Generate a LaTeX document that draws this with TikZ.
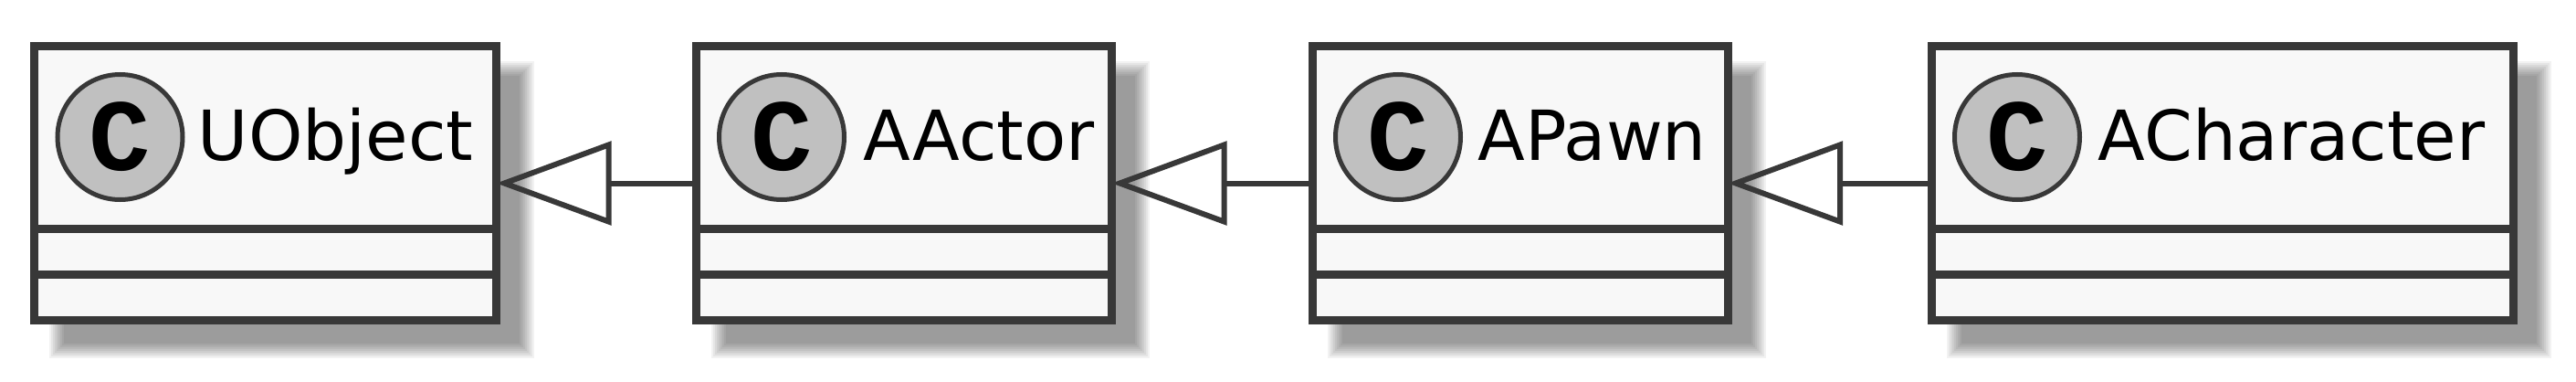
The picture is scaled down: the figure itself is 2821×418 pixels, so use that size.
\documentclass[tikz,border=0pt]{standalone}
\usepackage{fontspec}
\setmainfont{DejaVu Sans}
\newfontfamily\spotfont{Liberation Mono}
\usetikzlibrary{arrows.meta,backgrounds,calc}
\definecolor{umlline}{HTML}{383838}
\definecolor{umlfill}{HTML}{F8F8F8}
\definecolor{umlspot}{HTML}{C0C0C0}

\begin{document}
\begin{tikzpicture}[x=0.25pt,y=0.25pt,yscale=-1,xscale=1,
        classbox/.style={draw=umlline, line width=2.25pt, fill=umlfill, minimum height=75pt, inner sep=0pt, outer sep=0pt},
        spot/.style={circle, draw=umlline, line width=1.25pt, fill=umlspot, minimum size=34.25pt, inner sep=0pt, font=\spotfont\bfseries\fontsize{28pt}{28pt}\selectfont},
        classname/.style={anchor=base west, inner sep=0pt, font=\fontsize{18.9pt}{22pt}\selectfont},
        sepline/.style={draw=umlline, line width=2.25pt},
        extends/.style={draw=umlline, line width=1.5pt, -{Triangle[open, length=31.5pt, width=22.75pt]}}]
        \useasboundingbox (0,0) rectangle (2821,418);
        
        %Shape: Class boxes
        \node [classbox, minimum width=126.5pt] (UObject) at (290.5,200.5) {};
        \node [classbox, minimum width=113.75pt] (AActor) at (990,200.5) {};
        \node [classbox, minimum width=113.75pt] (APawn) at (1664.5,200.5) {};
        \node [classbox, minimum width=159.25pt] (ACharacter) at (2434,200.5) {};
        
        %Straight Lines: compartments
        \foreach \n in {UObject,AActor,APawn,ACharacter} {
            \draw [sepline] ($(\n.south west)+(0,-50)$) -- ($(\n.south east)+(0,-50)$);
            \draw [sepline] ($(\n.south west)+(0,-100)$) -- ($(\n.south east)+(0,-100)$);
        }
        
        %Shape: Circle
        \node [spot] (UObjectSpot) at (131.5,150) {C};
        \node [spot] (AActorSpot) at (856,150) {C};
        \node [spot] (APawnSpot) at (1531,150) {C};
        \node [spot] (ACharacterSpot) at (2209,150) {C};
        
        % Text Node
        \node [classname] (UObjectName) at (216,175.5) {UObject};
        % Text Node
        \node [classname] (AActorName) at (945,175.5) {AActor};
        % Text Node
        \node [classname] (APawnName) at (1618,175.5) {APawn};
        % Text Node
        \node [classname] (ACharacterName) at (2297,175.5) {ACharacter};
        
        %Straight Lines: generalisation
        \draw [extends] (AActor.west) -- (UObject.east);
        \draw [extends] (APawn.west) -- (AActor.east);
        \draw [extends] (ACharacter.west) -- (APawn.east);
        
        %Shape: Shadows
        \begin{scope}[on background layer]
            \fill [white] (0,0) rectangle (2821,418);
            \foreach \n in {UObject,AActor,APawn,ACharacter}
                \foreach \j in {0,2,...,16}
                    \fill [black, fill opacity=0.05] ($(\n.north west)+(32.5-\j,32.5-\j)$) rectangle ($(\n.south east)+(25.5+\j,25.5+\j)$);
        \end{scope}
        
\end{tikzpicture}
\end{document}
